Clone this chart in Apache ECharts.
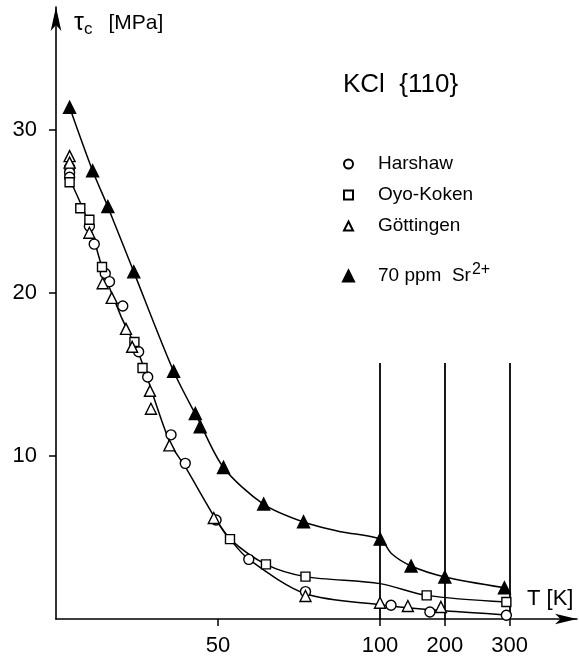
<!DOCTYPE html>
<html>
<head>
<meta charset="utf-8">
<script src="https://cdn.jsdelivr.net/npm/echarts@6/dist/echarts.min.js"></script>
<style>
  html, body { margin: 0; padding: 0; background: #fff; }
  #chart { width: 579px; height: 665px; }
</style>
</head>
<body>
<div id="chart"></div>
<script>
// measured points, T in K, tau_c in MPa
const harshawT = [4.2, 4.2, 4.2, 10.3, 11.8, 15.2, 16.5, 20.6, 25.5, 28.3, 35.5, 39.9, 49.4, 59.5, 77, 117, 177, 295];
const harshawTau = [27.7, 27.4, 27.1, 24.1, 23.0, 21.2, 20.7, 19.2, 16.4, 14.85, 11.3, 9.55, 6.07, 3.66, 1.68, 0.84, 0.43, 0.23];

const oyoT = [4.2, 7.5, 10.3, 14.2, 24.2, 26.7, 53.7, 64.8, 77, 172, 295];
const oyoTau = [26.8, 25.2, 24.5, 21.6, 17.0, 15.4, 4.9, 3.35, 2.6, 1.45, 1.04];

const gottT = [4.2, 4.2, 10.3, 14.4, 17.2, 21.6, 23.5, 29, 29.3, 35, 48.7, 77, 100, 143, 194];
const gottTau = [28.4, 28.0, 23.7, 20.6, 19.7, 17.8, 16.7, 14.0, 12.9, 10.65, 6.2, 1.41, 1.0, 0.8, 0.74];

const srT = [4.2, 11.3, 16, 24, 36.3, 43, 44.5, 51.7, 64.1, 76.4, 100.3, 148, 200, 292];
const srTau = [31.4, 27.5, 25.3, 21.3, 15.2, 12.6, 11.8, 9.3, 7.05, 5.97, 4.9, 3.25, 2.58, 1.92];

// fitted curves
const srCurveT = [4.2, 11.3, 16, 24, 36.3, 44, 51.7, 64, 76.4, 88, 100, 118, 148, 200, 292];
const srCurveTau = [31.4, 27.5, 25.3, 21.3, 15.2, 12.2, 9.3, 7.05, 5.95, 5.35, 4.9, 4.0, 3.25, 2.58, 1.92];

const upperCurveT = [4.2, 10.3, 14.2, 20, 25.5, 35, 40, 49.4, 53.7, 64.8, 77, 100, 172, 295];
const upperCurveTau = [27.0, 24.2, 21.6, 18.6, 16.3, 10.9, 9.3, 6.1, 4.9, 3.35, 2.6, 2.17, 1.45, 1.04];

const lowerCurveT = [49.4, 53.7, 59.5, 77, 100, 200, 295];
const lowerCurveTau = [6.1, 4.9, 3.66, 1.55, 0.88, 0.5, 0.25];

const xTicks = [50, 100, 200, 300];
const yTicks = [10, 20, 30];
const guideT = [100, 200, 300];
const guideTop = 15.7;

// the T axis is linear up to 100 K, then 100 K per 20 units
const toAxis = (t) => (t <= 100 ? t : 100 + (t - 100) * 0.2);
const fromAxis = (u) => (u <= 100 ? u : 100 + (u - 100) * 5);
const pts = (ts, vs) => ts.map((t, i) => [toAxis(t), vs[i]]);

const font = "Liberation Sans";
const chart = echarts.init(document.getElementById("chart"));

const curve = (name, ts, vs) => ({
  name: name,
  type: "line",
  data: pts(ts, vs),
  smooth: 0.3,
  showSymbol: false,
  silent: true,
  lineStyle: { color: "#000", width: 1.5 },
  z: 2,
});

const marks = (name, symbol, ts, vs, fill, size) => ({
  name: name,
  type: "scatter",
  symbol: symbol,
  symbolSize: size,
  data: pts(ts, vs),
  itemStyle: { color: fill, borderColor: "#000", borderWidth: 1.4, opacity: 1 },
  z: 5,
});

const option = {
  animation: false,
  backgroundColor: "#fff",
  textStyle: { fontFamily: font, color: "#000" },
  grid: { left: 56, right: 2, top: 7, bottom: 46 },
  xAxis: {
    type: "value",
    min: 0,
    max: 160.8,
    splitLine: { show: false },
    axisLine: {
      lineStyle: { color: "#000", width: 1.6 },
      symbol: ["none", "arrow"],
      symbolSize: [8, 22],
    },
    axisTick: {
      customValues: xTicks.map(toAxis),
      length: 7,
      lineStyle: { color: "#000", width: 1.5 },
    },
    axisLabel: {
      customValues: xTicks.map(toAxis),
      formatter: (v) => String(Math.round(fromAxis(v))),
      fontSize: 22,
      margin: 16,
      color: "#000",
    },
  },
  yAxis: {
    type: "value",
    min: 0,
    max: 37.55,
    splitLine: { show: false },
    axisLine: {
      lineStyle: { color: "#000", width: 1.6 },
      symbol: ["none", "arrow"],
      symbolSize: [8, 24],
    },
    axisTick: {
      customValues: yTicks,
      length: 7,
      lineStyle: { color: "#000", width: 1.5 },
    },
    axisLabel: {
      customValues: yTicks,
      fontSize: 22,
      margin: 19,
      color: "#000",
    },
  },
  legend: [
    {
      orient: "vertical",
      left: 338,
      top: 149,
      itemGap: 11,
      itemWidth: 9,
      itemHeight: 9,
      selectedMode: false,
      data: [
        { name: "Harshaw", icon: "circle" },
        { name: "Oyo-Koken", icon: "rect" },
        { name: "Göttingen", icon: "triangle" },
      ],
      textStyle: { fontSize: 19, color: "#000", padding: [0, 0, 0, 20], lineHeight: 20 },
    },
    {
      orient: "vertical",
      left: 337,
      top: 257,
      itemWidth: 11,
      itemHeight: 11,
      selectedMode: false,
      data: [{ name: "70 ppm Sr", icon: "triangle" }],
      formatter: (n) => "70 ppm  Sr{sup|2+}",
      textStyle: {
        fontSize: 19,
        color: "#000",
        padding: [0, 0, 0, 19],
        rich: {
          sup: { fontSize: 16, color: "#000", padding: [0, 0, 12, 1] },
        },
      },
    },
  ],
  graphic: [
    {
      type: "text",
      left: 74,
      top: 11,
      style: {
        text: "{t|τ}{s|c}{m|[MPa]}",
        fill: "#000",
        rich: {
          t: { fontSize: 25, fontFamily: font, fill: "#000" },
          s: { fontSize: 17, fontFamily: font, fill: "#000", padding: [12, 0, 0, 0] },
          m: { fontSize: 21, fontFamily: font, fill: "#000", padding: [0, 0, 0, 16] },
        },
      },
    },
    {
      type: "text",
      left: 527,
      top: 588,
      style: { text: "T [K]", fontSize: 22, fontFamily: font, fill: "#000" },
    },
    {
      type: "text",
      left: 343,
      top: 72,
      style: { text: "KCl  {110}", fontSize: 26, fontFamily: font, fill: "#000" },
    },
  ],
  series: [
    Object.assign(curve("srCurve", srCurveT, srCurveTau), {
      markLine: {
        silent: true,
        symbol: "none",
        label: { show: false },
        lineStyle: { color: "#000", width: 1.8, type: "solid" },
        data: guideT.map((t) => [
          { coord: [toAxis(t), 0] },
          { coord: [toAxis(t), guideTop] },
        ]),
      },
    }),
    curve("upperCurve", upperCurveT, upperCurveTau),
    curve("lowerCurve", lowerCurveT, lowerCurveTau),
    marks("Harshaw", "circle", harshawT, harshawTau, "#fff", 10),
    marks("Oyo-Koken", "rect", oyoT, oyoTau, "#fff", 9),
    marks("Göttingen", "triangle", gottT, gottTau, "#fff", 11),
    marks("70 ppm Sr", "triangle", srT, srTau, "#000", 12),
  ],
};

chart.setOption(option);
</script>
</body>
</html>
